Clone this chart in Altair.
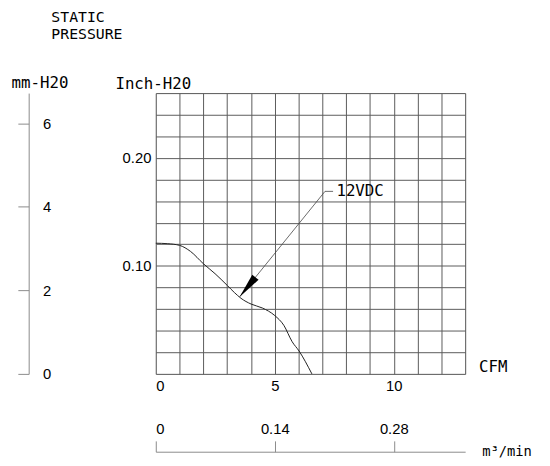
import altair as alt
import pandas as pd

# Fan curve (12VDC): airflow in CFM vs static pressure in inch-H2O
cfm = [0.0, 0.48, 1.0, 1.46, 2.0, 2.49, 3.0, 3.3, 3.58, 4.0, 4.48, 5.0, 5.38, 5.73, 6.02, 6.56]
inch = [0.121, 0.1206, 0.119, 0.1134, 0.102, 0.0928, 0.082, 0.0754, 0.070, 0.0647, 0.061, 0.054, 0.045, 0.0298, 0.0212, 0.0]

x_grid = list(range(0, 14))                       # CFM grid 0..13
y_grid = [round(i * 0.02, 2) for i in range(14)]  # inch grid 0..0.26
mm_ticks = [0, 2, 4, 6]
m3_ticks = [0, 0.14, 0.28]

# annotation "12VDC" with leader and arrow
lead_x = [7.45, 7.11]
lead_y = [0.169, 0.169]
lead_x2 = [7.11, 3.52]
lead_y2 = [0.169, 0.0713]
label_x = [7.59]
label_y = [0.169]
label_text = ["12VDC"]
tip_x = [3.52]
tip_y = [0.0713]

WORD_FONT = "DejaVu Sans Mono"
NUM_FONT = "Liberation Sans"
GRID = "#5a5a5a"
AX = "#8a8a8a"

xs = alt.Scale(domain=[0, 13], nice=False, zero=False)
ys = alt.Scale(domain=[0, 0.26], nice=False, zero=False)

x_axis = alt.Axis(
    values=x_grid, grid=True, gridColor=GRID, gridOpacity=1, gridWidth=1,
    domain=False, ticks=False,
    labelExpr="datum.value % 5 === 0 ? datum.label : ''",
    labelFont=NUM_FONT, labelFontSize=15, labelColor="black", labelPadding=5,
    title="CFM", titleFont=WORD_FONT, titleFontSize=16, titleFontWeight="normal",
    titleColor="black", titleAngle=0, titleX=342, titleY=-7,
    titleAlign="center", titleBaseline="middle")
y_axis = alt.Axis(
    values=y_grid, grid=True, gridColor=GRID, gridOpacity=1, gridWidth=1,
    domain=False, ticks=False,
    labelExpr="(datum.value == 0.1 || datum.value == 0.2) ? format(datum.value, '.2f') : ''",
    labelFont=NUM_FONT, labelFontSize=15, labelColor="black", labelPadding=5,
    title="Inch-H20", titleFont=WORD_FONT, titleFontSize=16, titleFontWeight="normal",
    titleColor="black", titleAngle=0, titleX=-3, titleY=-10,
    titleAlign="center", titleBaseline="middle")

curve_df = pd.DataFrame({"cfm": cfm, "inch": inch})
curve = alt.Chart(curve_df).mark_line(color="#222222", strokeWidth=1, interpolate="monotone").encode(
    x=alt.X("cfm:Q", scale=xs, axis=x_axis),
    y=alt.Y("inch:Q", scale=ys, axis=y_axis),
)

lead_df = pd.DataFrame({"x": lead_x, "y": lead_y, "x2": lead_x2, "y2": lead_y2})
leader = alt.Chart(lead_df).mark_rule(color="#444444", strokeWidth=0.8).encode(
    x=alt.X("x:Q", scale=xs, axis=x_axis),
    y=alt.Y("y:Q", scale=ys, axis=y_axis),
    x2="x2:Q", y2="y2:Q",
)

tip_df = pd.DataFrame({"x": tip_x, "y": tip_y})
arrow = alt.Chart(tip_df).mark_point(
    shape="M0,0L0.32,2L-0.32,2Z", filled=True, color="black", opacity=1,
    size=655, angle=219, strokeWidth=0,
).encode(
    x=alt.X("x:Q", scale=xs, axis=x_axis),
    y=alt.Y("y:Q", scale=ys, axis=y_axis),
)

label_df = pd.DataFrame({"x": label_x, "y": label_y, "t": label_text})
label = alt.Chart(label_df).mark_text(
    align="left", baseline="middle", font=WORD_FONT, fontSize=16, color="black"
).encode(
    x=alt.X("x:Q", scale=xs, axis=x_axis),
    y=alt.Y("y:Q", scale=ys, axis=y_axis),
    text="t:N",
)

main = alt.layer(curve, leader, arrow, label)

mm_df = pd.DataFrame({"mm": mm_ticks})
mm_layer = alt.Chart(mm_df).mark_point(opacity=0).encode(
    y=alt.Y("mm:Q", scale=alt.Scale(domain=[0, 6.72], nice=False, zero=False), axis=alt.Axis(
        orient="left", offset=129, values=mm_ticks, grid=False,
        domainColor=AX, tickColor=AX, tickSize=11, domainWidth=1, tickWidth=1,
        labelAlign="left", labelPadding=-25, labelBaseline="middle",
        labelFont=NUM_FONT, labelFontSize=15, labelColor="black",
        title="mm-H20", titleFont=WORD_FONT, titleFontSize=16, titleFontWeight="normal",
        titleColor="black", titleAngle=0, titleX=11, titleY=-11,
        titleAlign="center", titleBaseline="middle")),
)

m3_df = pd.DataFrame({"m3": m3_ticks})
m3_layer = alt.Chart(m3_df).mark_point(opacity=0).encode(
    x=alt.X("m3:Q", scale=alt.Scale(domain=[0, 0.364], nice=False, zero=False), axis=alt.Axis(
        orient="top", offset=-364, values=m3_ticks, grid=False,
        domainColor=AX, tickColor=AX, tickSize=11, domainWidth=1, tickWidth=1,
        labelExpr="datum.value == 0 ? '0' : format(datum.value, '.2f')",
        labelPadding=4, labelFont=NUM_FONT, labelFontSize=15, labelColor="black",
        title="m³/min", titleFont=WORD_FONT, titleFontSize=14, titleFontWeight="normal",
        titleColor="black", titleAngle=0, titleX=356, titleY=0,
        titleAlign="center", titleBaseline="middle")),
)

chart = alt.layer(main, mm_layer, m3_layer).resolve_scale(
    x="independent", y="independent"
).properties(
    width=314, height=285,
    title=alt.TitleParams(
        text=["STATIC", "PRESSURE"], anchor="start", frame="group",
        dx=-106, offset=18, baseline="bottom",
        font=WORD_FONT, fontSize=15, fontWeight="normal", color="black", lineHeight=17,
    ),
    padding={"left": 150, "top": 83, "right": 78, "bottom": 82},
    autosize=alt.AutoSizeParams(type="none"),
).configure_view(stroke=None).configure(background="white")

chart.save("out.html", embed_options={"renderer": "svg", "actions": False})
